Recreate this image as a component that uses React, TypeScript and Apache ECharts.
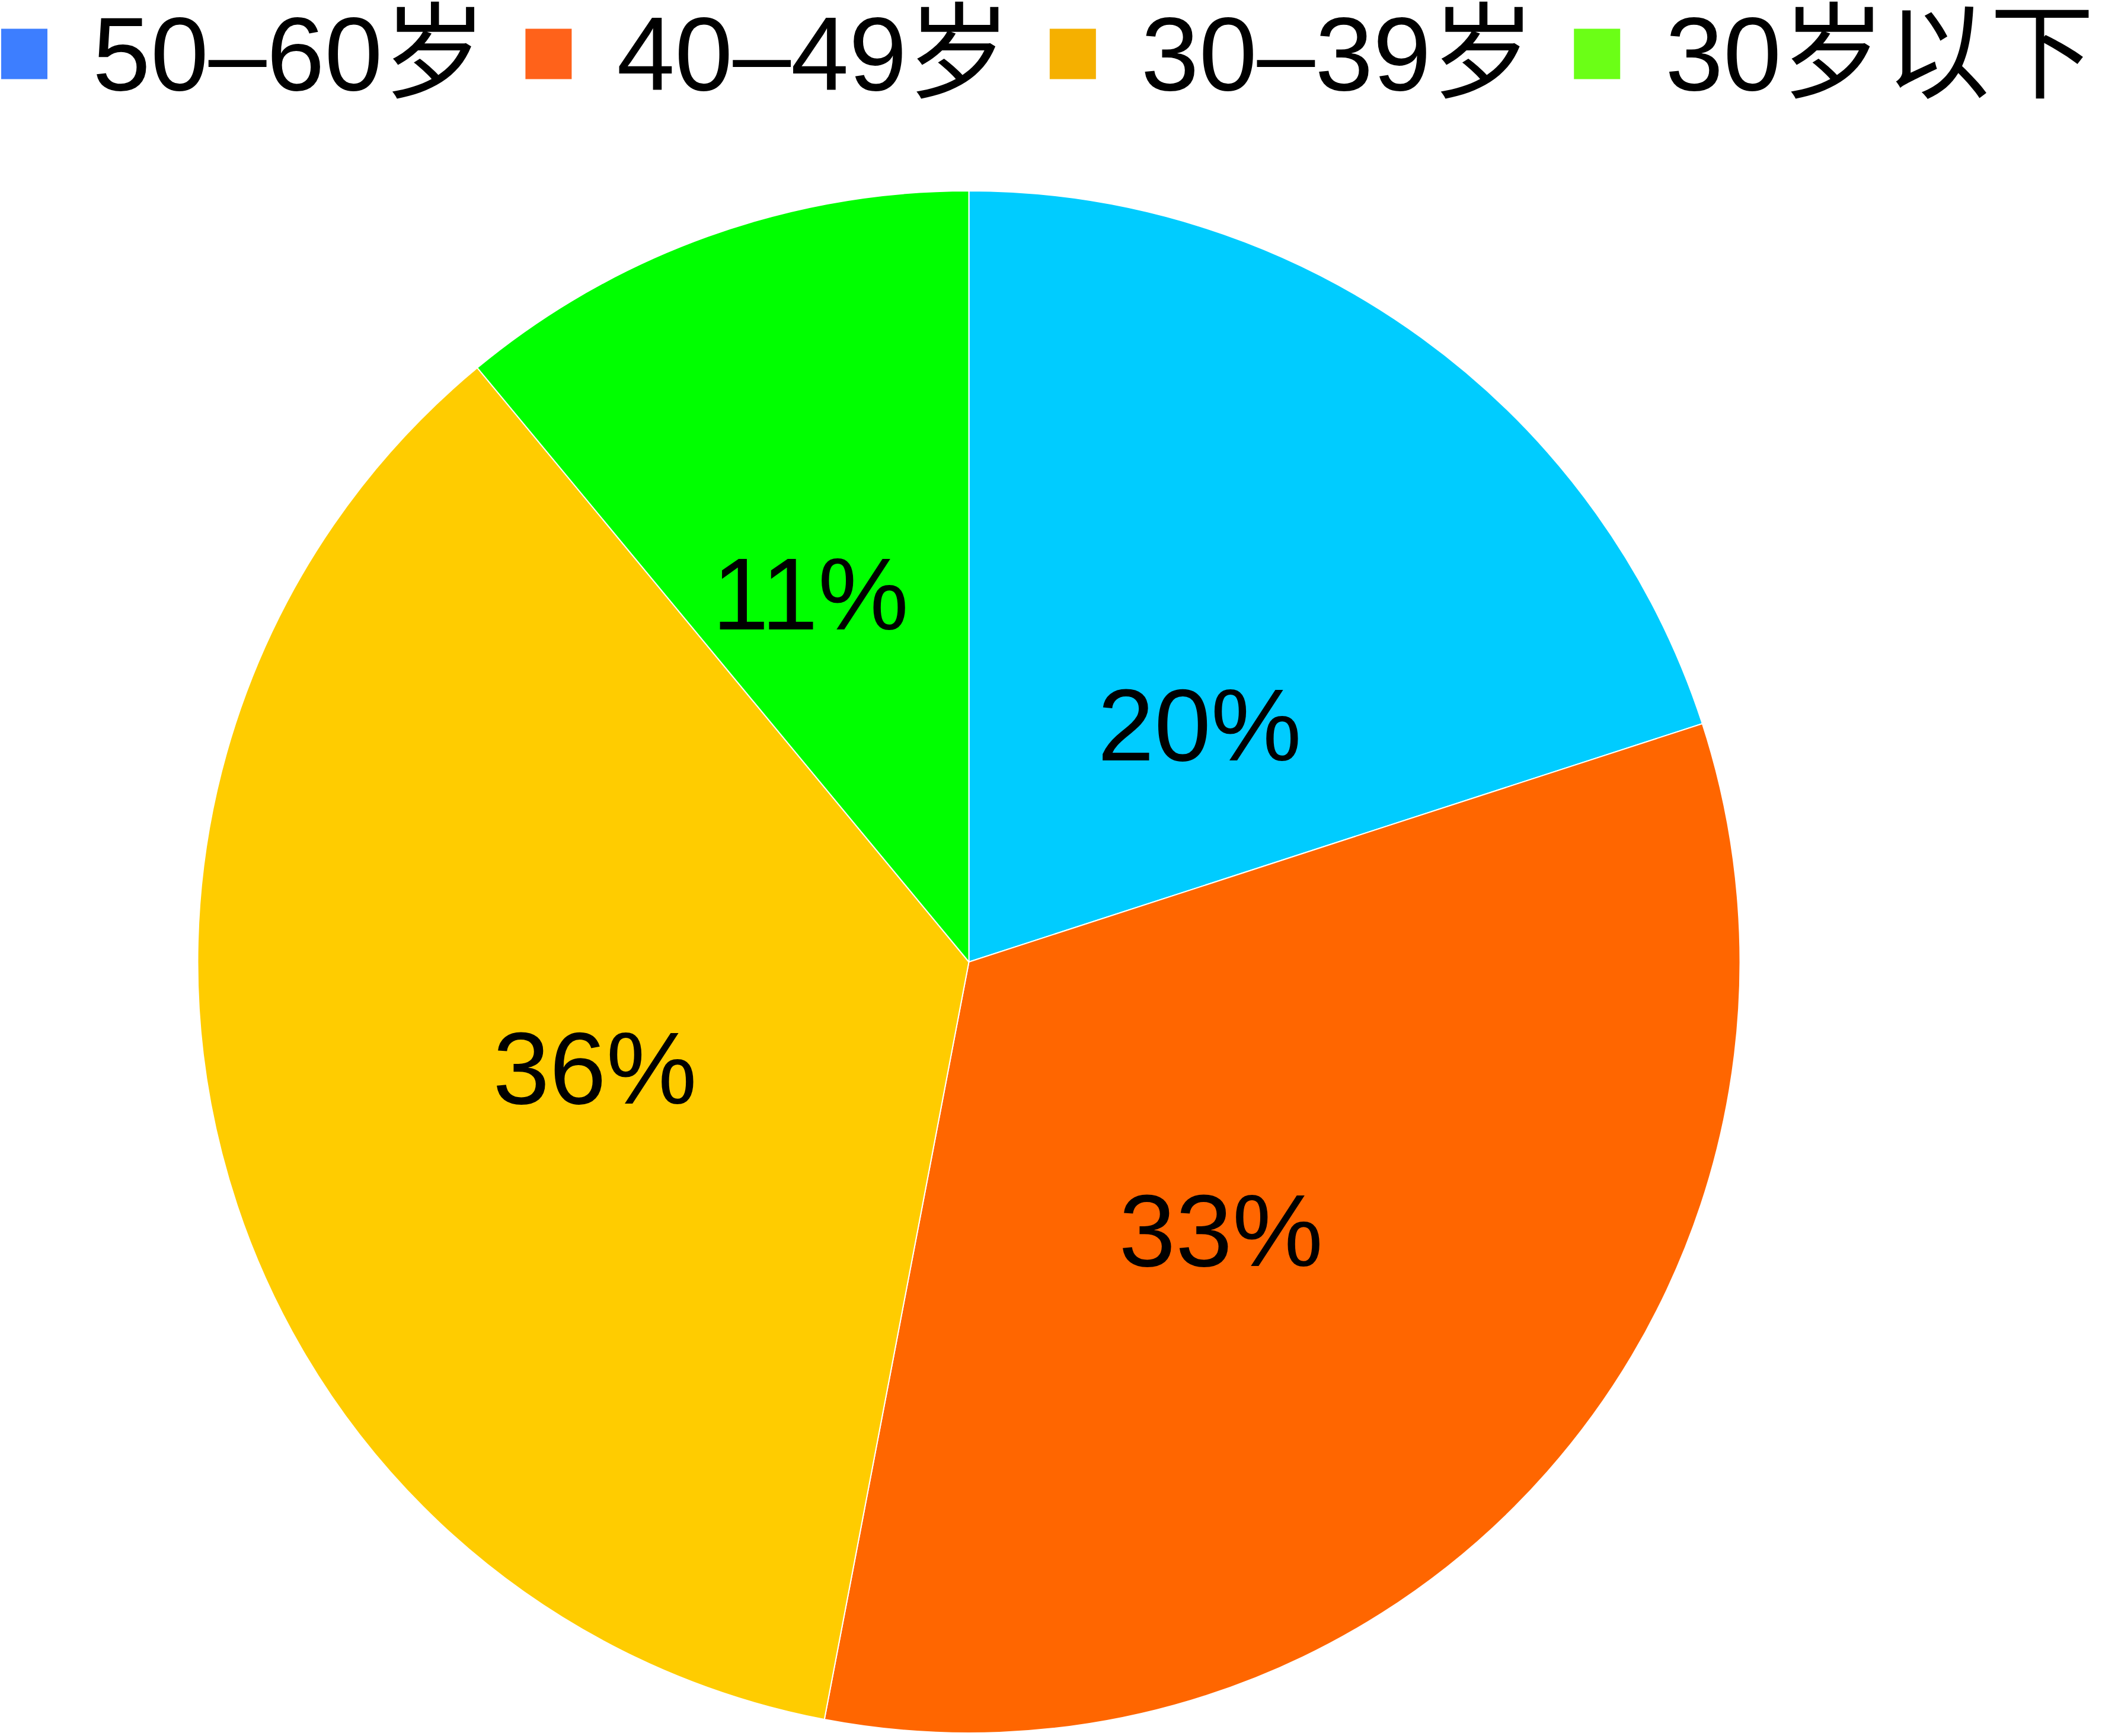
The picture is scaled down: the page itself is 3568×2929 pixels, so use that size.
import React, { useEffect, useRef } from "react";
import * as echarts from "echarts";

const categories = ["50–60岁", "40–49岁", "30–39岁", "30岁以下"];
const values = [20, 33, 36, 11];
const sliceColors = ["#00CCFF", "#FF6600", "#FFCC00", "#00FF00"];
const legendColors = ["#3D7EFF", "#FF621A", "#F5B000", "#6BFF16"];
const labelOffsets = [
  [5, 129],
  [-65, 21],
  [2, 16],
  [-46, -6],
];

const FONT = "'Liberation Sans', Arial, 'Noto Sans CJK SC', sans-serif";

export default function App() {
  const ref = useRef<HTMLDivElement>(null);

  useEffect(() => {
    document.body.style.margin = "0";
    if (!ref.current) return;
    const chart = echarts.init(ref.current, null, { renderer: "svg" });
    chart.setOption({
      animation: false,
      backgroundColor: "#ffffff",
      legend: {
        left: 0,
        top: 3,
        padding: 0,
        itemWidth: 80,
        itemHeight: 87,
        itemGap: 63,
        icon: "rect",
        selectedMode: false,
        textStyle: {
          fontSize: 176,
          lineHeight: 87,
          color: "#000000",
          fontFamily: FONT,
          padding: [0, 0, 0, 70],
        },
        data: categories.map((name, i) => ({
          name,
          itemStyle: { color: legendColors[i] },
        })),
      },
      series: [
        {
          type: "pie",
          center: [1634.5, 1623],
          radius: 1301,
          startAngle: 90,
          clockwise: true,
          silent: true,
          itemStyle: { borderColor: "#ffffff", borderWidth: 2 },
          label: {
            show: true,
            position: "inside",
            formatter: "{c}%",
            fontSize: 172,
            color: "#000000",
            fontFamily: FONT,
          },
          labelLine: { show: false },
          data: categories.map((name, i) => ({
            name,
            value: values[i],
            itemStyle: { color: sliceColors[i] },
            label: { offset: labelOffsets[i] },
          })),
        },
      ],
    });
    return () => chart.dispose();
  }, []);

  return <div ref={ref} style={{ width: 3568, height: 2929 }} />;
}
